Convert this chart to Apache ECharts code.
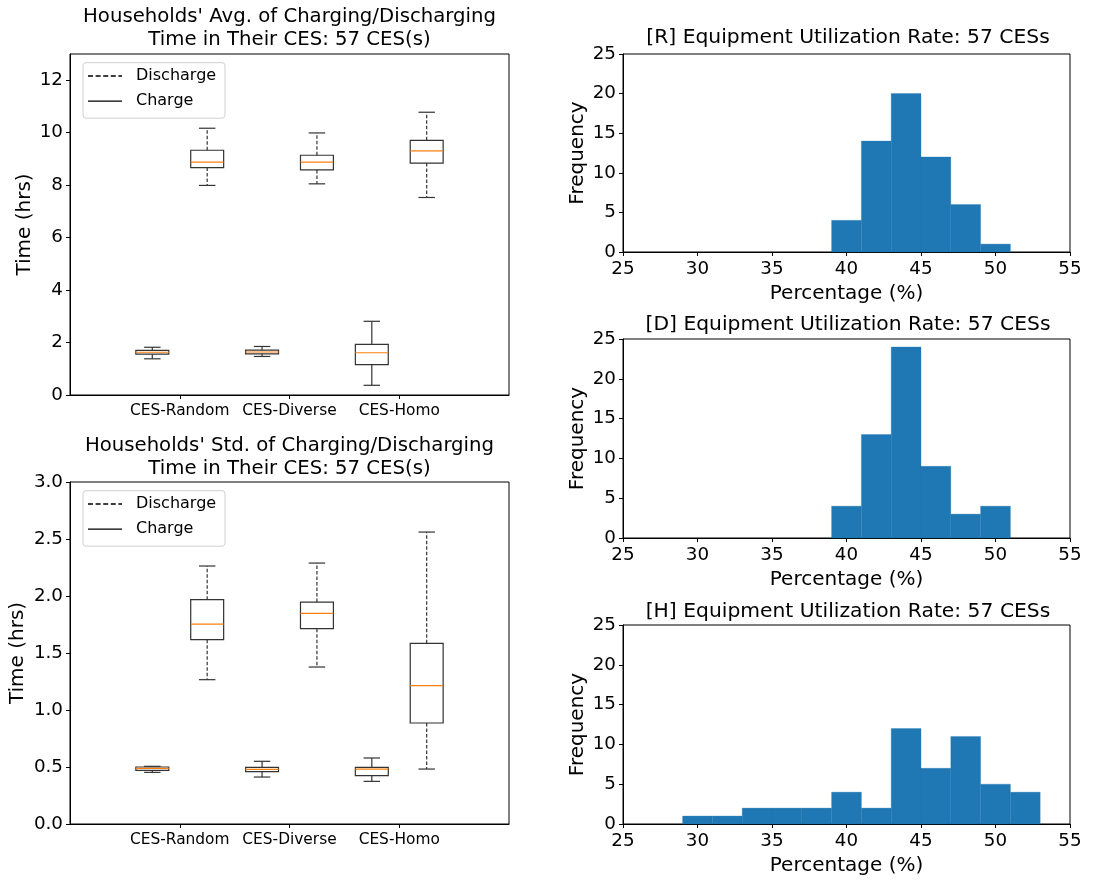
<!DOCTYPE html>
<html><head><meta charset="utf-8">
<script src="https://cdn.jsdelivr.net/npm/echarts@6/dist/echarts.min.js"></script>
<style>html,body{margin:0;padding:0;background:#fff}#c{width:1104px;height:881px}</style>
</head><body><div id="c"></div>
<script>
// ---------- data ----------
const categories = ['CES-Random', 'CES-Diverse', 'CES-Homo'];
// box stats: [min, Q1, median, Q3, max]
const avgCharge = [[1.38, 1.56, 1.63, 1.70, 1.82], [1.47, 1.57, 1.64, 1.71, 1.85], [0.37, 1.16, 1.61, 1.93, 2.81]];
const avgDischarge = [[7.99, 8.67, 8.88, 9.33, 10.17], [8.05, 8.58, 8.88, 9.14, 9.99], [7.53, 8.84, 9.31, 9.71, 10.78]];
const stdCharge = [[0.453, 0.471, 0.488, 0.500, 0.506], [0.412, 0.459, 0.480, 0.497, 0.550], [0.374, 0.424, 0.482, 0.497, 0.579]];
const stdDischarge = [[1.266, 1.617, 1.754, 1.968, 2.263], [1.377, 1.713, 1.848, 1.947, 2.289], [0.482, 0.886, 1.213, 1.585, 2.561]];
const avgTicks = [0, 2, 4, 6, 8, 10, 12];
const stdTicks = [0, 0.5, 1.0, 1.5, 2.0, 2.5, 3.0];
// histograms: bin left edges and counts (bin width 2)
const binWidth = 2;
const rEdges = [39, 41, 43, 45, 47, 49];
const rCounts = [4, 14, 20, 12, 6, 1];
const dEdges = [39, 41, 43, 45, 47, 49];
const dCounts = [4, 13, 24, 9, 3, 4];
const hEdges = [29, 31, 33, 35, 37, 39, 41, 43, 45, 47, 49, 51];
const hCounts = [1, 1, 2, 2, 2, 4, 2, 12, 7, 11, 5, 4];

// ---------- chart ----------
const FONT = 'DejaVu Sans';
const chart = echarts.init(document.getElementById('c'), null, {renderer: 'canvas'});

const boxGrids = [
  {left: 70, top: 54, width: 439, height: 341},
  {left: 70, top: 482, width: 439, height: 342}
];
const histGrids = [
  {left: 623, top: 54, width: 447, height: 198},
  {left: 623, top: 339, width: 447, height: 199},
  {left: 623, top: 625, width: 447, height: 199}
];
const grids = boxGrids.concat(histGrids).map(g => Object.assign({show: true, borderColor: '#000', borderWidth: 1, backgroundColor: 'transparent'}, g));

function boxData(stats, offset) {
  return stats.map((s, i) => [i + 1 + offset].concat(s));
}
function boxRender(dashed) {
  return function (params, api) {
    const x = api.value(0);
    const lo = api.coord([x, api.value(1)]);
    const q1 = api.coord([x, api.value(2)]);
    const md = api.coord([x, api.value(3)]);
    const q3 = api.coord([x, api.value(4)]);
    const hi = api.coord([x, api.value(5)]);
    const hw = api.size([0.3, 0])[0] / 2;
    const cw = api.size([0.15, 0])[0] / 2;
    const cx = lo[0];
    const lineStyle = {stroke: '#333', lineWidth: 1.2, fill: null};
    const wStyle = {stroke: '#333', lineWidth: 1.2, lineDash: dashed ? [3.5, 2] : null};
    return {
      type: 'group',
      children: [
        {type: 'line', shape: {x1: cx, y1: q1[1], x2: cx, y2: lo[1]}, style: wStyle},
        {type: 'line', shape: {x1: cx, y1: q3[1], x2: cx, y2: hi[1]}, style: wStyle},
        {type: 'line', shape: {x1: cx - cw, y1: lo[1], x2: cx + cw, y2: lo[1]}, style: lineStyle},
        {type: 'line', shape: {x1: cx - cw, y1: hi[1], x2: cx + cw, y2: hi[1]}, style: lineStyle},
        {type: 'rect', shape: {x: cx - hw, y: q3[1], width: 2 * hw, height: q1[1] - q3[1]}, style: lineStyle},
        {type: 'line', shape: {x1: cx - hw, y1: md[1], x2: cx + hw, y2: md[1]}, style: {stroke: '#ff7f0e', lineWidth: 1.2}}
      ]
    };
  };
}
function histData(edges, counts) {
  return edges.map((e, i) => [e, e + binWidth, counts[i]]);
}
function histRender(params, api) {
  const p0 = api.coord([api.value(0), 0]);
  const p1 = api.coord([api.value(1), api.value(2)]);
  return {type: 'rect', shape: {x: p0[0], y: p1[1], width: p1[0] - p0[0], height: p0[1] - p1[1]},
    style: {fill: '#1f77b4', stroke: '#1f77b4', lineWidth: 0.3}};
}

const tickLabel = {color: '#000', fontSize: 18.3, fontFamily: FONT};
const nameStyle = {color: '#000', fontSize: 20, fontFamily: FONT};

const xAxes = [];
const yAxes = [];
[0, 1].forEach(i => {
  xAxes.push({
    gridIndex: i, type: 'value', min: 0, max: 4, interval: 1,
    axisLine: {show: true, lineStyle: {color: '#000', width: 1}},
    axisTick: {show: true, length: 4, customValues: [1, 2, 3], lineStyle: {color: '#000'}},
    axisLabel: {show: true, customValues: [1, 2, 3], formatter: v => categories[Math.round(v) - 1] || '',
      color: '#000', fontSize: 15.4, fontFamily: FONT, margin: 8},
    splitLine: {show: false}
  });
});
yAxes.push({
  gridIndex: 0, type: 'value', min: 0, max: 13, interval: 2,
  name: 'Time (hrs)', nameLocation: 'middle', nameGap: 35, nameTextStyle: nameStyle,
  axisLine: {show: true, lineStyle: {color: '#000'}},
  axisTick: {show: true, length: 4, customValues: avgTicks, lineStyle: {color: '#000'}},
  axisLabel: Object.assign({customValues: avgTicks, margin: 7}, tickLabel),
  splitLine: {show: false}
});
yAxes.push({
  gridIndex: 1, type: 'value', min: 0, max: 3, interval: 0.5,
  name: 'Time (hrs)', nameLocation: 'middle', nameGap: 42, nameTextStyle: nameStyle,
  axisLine: {show: true, lineStyle: {color: '#000'}},
  axisTick: {show: true, length: 4, customValues: stdTicks, lineStyle: {color: '#000'}},
  axisLabel: Object.assign({customValues: stdTicks, margin: 7, formatter: v => v.toFixed(1)}, tickLabel),
  splitLine: {show: false}
});
[2, 3, 4].forEach(g => {
  xAxes.push({
    gridIndex: g, type: 'value', min: 25, max: 55, interval: 5,
    name: 'Percentage (%)', nameLocation: 'middle', nameGap: 32, nameTextStyle: nameStyle,
    axisLine: {show: true, lineStyle: {color: '#000'}},
    axisTick: {show: true, length: 4, lineStyle: {color: '#000'}},
    axisLabel: Object.assign({margin: 8}, tickLabel),
    splitLine: {show: false}
  });
  yAxes.push({
    gridIndex: g, type: 'value', min: 0, max: 25, interval: 5,
    name: 'Frequency', nameLocation: 'middle', nameGap: 35, nameTextStyle: nameStyle,
    axisLine: {show: true, lineStyle: {color: '#000'}},
    axisTick: {show: true, length: 4, lineStyle: {color: '#000'}},
    axisLabel: Object.assign({margin: 7}, tickLabel),
    splitLine: {show: false}
  });
});

const series = [
  {type: 'custom', name: 'Charge', xAxisIndex: 0, yAxisIndex: 0, data: boxData(avgCharge, -0.25), renderItem: boxRender(false), encode: {x: 0, y: [1, 2, 3, 4, 5]}},
  {type: 'custom', name: 'Discharge', xAxisIndex: 0, yAxisIndex: 0, data: boxData(avgDischarge, 0.25), renderItem: boxRender(true), encode: {x: 0, y: [1, 2, 3, 4, 5]}},
  {type: 'custom', name: 'Charge', xAxisIndex: 1, yAxisIndex: 1, data: boxData(stdCharge, -0.25), renderItem: boxRender(false), encode: {x: 0, y: [1, 2, 3, 4, 5]}},
  {type: 'custom', name: 'Discharge', xAxisIndex: 1, yAxisIndex: 1, data: boxData(stdDischarge, 0.25), renderItem: boxRender(true), encode: {x: 0, y: [1, 2, 3, 4, 5]}},
  {type: 'custom', xAxisIndex: 2, yAxisIndex: 2, data: histData(rEdges, rCounts), renderItem: histRender, encode: {x: [0, 1], y: 2}},
  {type: 'custom', xAxisIndex: 3, yAxisIndex: 3, data: histData(dEdges, dCounts), renderItem: histRender, encode: {x: [0, 1], y: 2}},
  {type: 'custom', xAxisIndex: 4, yAxisIndex: 4, data: histData(hEdges, hCounts), renderItem: histRender, encode: {x: [0, 1], y: 2}}
];

function mkTitle(text, cx, top, lh, fs) {
  return {text: text, left: cx, top: top, textAlign: 'center', padding: 0,
    textStyle: {color: '#000', fontSize: fs, fontWeight: 'normal', fontFamily: FONT, lineHeight: lh}};
}
const titles = [
  mkTitle("Households' Avg. of Charging/Discharging\nTime in Their CES: 57 CES(s)", 289.5, 5, 23, 19.7),
  mkTitle("Households' Std. of Charging/Discharging\nTime in Their CES: 57 CES(s)", 289.5, 434, 23, 19.7),
  mkTitle('[R] Equipment Utilization Rate: 57 CESs', 848, 28, 20, 20.3),
  mkTitle('[D] Equipment Utilization Rate: 57 CESs', 848, 315, 20, 20.3),
  mkTitle('[H] Equipment Utilization Rate: 57 CESs', 848, 602, 20, 20.3)
];

function legendGraphic(g) {
  const x0 = g.left + 13, y0 = g.top + 8.7;
  return [
    {type: 'rect', shape: {x: x0, y: y0, width: 142, height: 55.5, r: 3}, style: {fill: 'rgba(255,255,255,0.8)', stroke: '#d0d0d0', lineWidth: 1}, z: 100},
    {type: 'line', shape: {x1: x0 + 5, y1: y0 + 13.3, x2: x0 + 39, y2: y0 + 13.3}, style: {stroke: '#000', lineWidth: 1.3, lineDash: [5, 2.6]}, z: 101},
    {type: 'line', shape: {x1: x0 + 5, y1: y0 + 38.4, x2: x0 + 39, y2: y0 + 38.4}, style: {stroke: '#000', lineWidth: 1.3}, z: 101},
    {type: 'text', x: x0 + 53, y: y0 + 13.3, style: {text: 'Discharge', fill: '#000', font: '16px "DejaVu Sans"', verticalAlign: 'middle'}, z: 101},
    {type: 'text', x: x0 + 53, y: y0 + 38.4, style: {text: 'Charge', fill: '#000', font: '16px "DejaVu Sans"', verticalAlign: 'middle'}, z: 101}
  ];
}

chart.setOption({
  backgroundColor: '#fff',
  animation: false,
  title: titles,
  grid: grids,
  xAxis: xAxes,
  yAxis: yAxes,
  series: series,
  graphic: legendGraphic(boxGrids[0]).concat(legendGraphic(boxGrids[1]))
});
</script></body></html>
